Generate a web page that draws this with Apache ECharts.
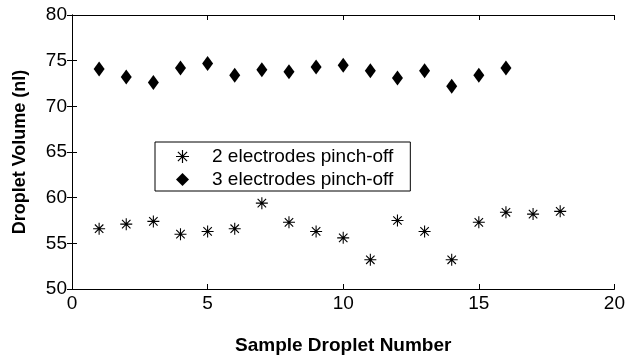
<!DOCTYPE html>
<html>
<head>
<meta charset="utf-8">
<script src="https://cdn.jsdelivr.net/npm/echarts@6/dist/echarts.min.js"></script>
<style>
  html, body { margin: 0; padding: 0; background: #fff; }
  #chart { width: 628px; height: 363px; }
</style>
</head>
<body>
<div id="chart"></div>
<script>
// droplet index
var twoIdx = [1, 2, 3, 4, 5, 6, 7, 8, 9, 10, 11, 12, 13, 14, 15, 16, 17, 18];
var twoVol = [56.6, 57.1, 57.4, 56.0, 56.3, 56.6, 59.4, 57.3, 56.3, 55.6, 53.2, 57.5, 56.3, 53.2, 57.3, 58.4, 58.2, 58.5];
var threeIdx = [1, 2, 3, 4, 5, 6, 7, 8, 9, 10, 11, 12, 13, 14, 15, 16];
var threeVol = [74.1, 73.2, 72.6, 74.2, 74.7, 73.4, 74.0, 73.8, 74.3, 74.5, 73.9, 73.1, 73.9, 72.2, 73.4, 74.2];

var seriesNames = ['2 electrodes pinch-off', '3 electrodes pinch-off'];

// asterisk marker (matlab '*')
var starPath = 'path://M0.91 0L1.09 0L1.09 2L0.91 2Z' +
  'M0 0.91L2 0.91L2 1.09L0 1.09Z' +
  'M0.23 0.36L0.36 0.23L1.77 1.64L1.64 1.77Z' +
  'M1.64 0.23L1.77 0.36L0.36 1.77L0.23 1.64Z';

function zip(a, b) {
  return a.map(function (v, i) { return [v, b[i]]; });
}

var font = 'Liberation Sans';
var chart = echarts.init(document.getElementById('chart'));

var frameAxis = {
  axisLine: { show: true, lineStyle: { color: '#000', width: 1 } },
  axisTick: { show: true, inside: true, length: 5, lineStyle: { color: '#000' } },
  axisLabel: { show: false },
  splitLine: { show: false }
};

var option = {
  animation: false,
  backgroundColor: '#fff',
  grid: { left: 72, right: 11, top: 15, bottom: 74 },
  legend: {
    orient: 'vertical',
    left: 155,
    top: 142,
    data: seriesNames,
    borderColor: '#000',
    borderWidth: 1,
    borderRadius: 0,
    padding: [5, 17, 2, 21],
    itemGap: 4,
    itemWidth: 13,
    itemHeight: 13,
    textStyle: { fontFamily: font, fontSize: 19, color: '#000', padding: [0, 0, 0, 18] }
  },
  xAxis: [
    {
      type: 'value', min: 0, max: 20, interval: 5,
      name: 'Sample Droplet Number',
      nameLocation: 'middle',
      nameGap: 47,
      nameTextStyle: { fontFamily: font, fontSize: 19, fontWeight: 'bold', color: '#000' },
      axisLine: { show: true, onZero: false, lineStyle: { color: '#000', width: 1 } },
      axisTick: { show: true, inside: true, length: 5, lineStyle: { color: '#000' } },
      axisLabel: { fontFamily: font, fontSize: 19, color: '#000', margin: 5 },
      splitLine: { show: false }
    },
    Object.assign({ type: 'value', min: 0, max: 20, interval: 5, position: 'top' }, frameAxis)
  ],
  yAxis: [
    {
      type: 'value', min: 50, max: 80, interval: 5,
      name: 'Droplet Volume (nl)',
      nameLocation: 'middle',
      nameGap: 43,
      nameTextStyle: { fontFamily: font, fontSize: 18, fontWeight: 'bold', color: '#000' },
      axisLine: { show: true, onZero: false, lineStyle: { color: '#000', width: 1 } },
      axisTick: { show: true, inside: true, length: 5, lineStyle: { color: '#000' } },
      axisLabel: { fontFamily: font, fontSize: 19, color: '#000', margin: 5 },
      splitLine: { show: false }
    },
    Object.assign({ type: 'value', min: 50, max: 80, interval: 5, position: 'right' }, frameAxis)
  ],
  series: [
    {
      name: seriesNames[0],
      type: 'scatter',
      symbol: starPath,
      symbolSize: 12,
      itemStyle: { color: '#000', opacity: 1 },
      data: zip(twoIdx, twoVol)
    },
    {
      name: seriesNames[1],
      type: 'scatter',
      symbol: 'diamond',
      symbolSize: [11, 15],
      itemStyle: { color: '#000', opacity: 1 },
      data: zip(threeIdx, threeVol)
    }
  ]
};

chart.setOption(option);
</script>
</body>
</html>
